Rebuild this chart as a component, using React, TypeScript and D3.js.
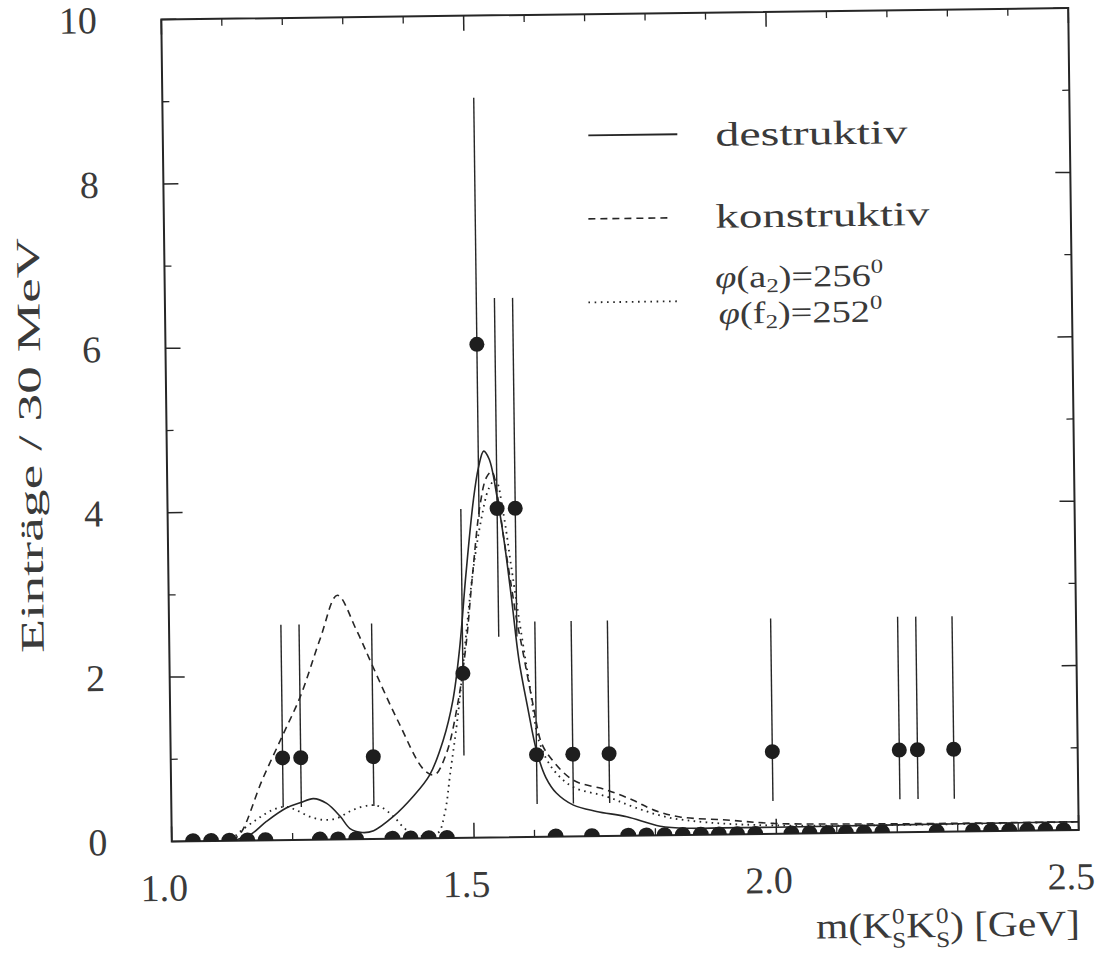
import React from 'react';
import * as d3 from 'd3';

// ---------------- data ----------------
const xTickValues = [1.0, 1.5, 2.0, 2.5];
const xTickLabels = ['1.0', '1.5', '2.0', '2.5'];
const xMinorTicks = [1.1, 1.2, 1.3, 1.4, 1.6, 1.7, 1.8, 1.9, 2.1, 2.2, 2.3, 2.4];
const yTickValues = [0, 2, 4, 6, 8, 10];
const yTickLabels = ['0', '2', '4', '6', '8', '10'];
const yMinorTicks = [1, 3, 5, 7, 9];

// bins (30 MeV) with zero entries
const zeroMass = [1.035, 1.065, 1.095, 1.125, 1.155, 1.245, 1.275, 1.305, 1.365, 1.395, 1.425, 1.455,
  1.635, 1.695, 1.755, 1.785, 1.815, 1.845, 1.875, 1.905, 1.935, 1.965, 2.025, 2.055, 2.085, 2.115,
  2.145, 2.175, 2.265, 2.325, 2.355, 2.385, 2.415, 2.445, 2.475];

// bins with entries
const pointMass = [1.185, 1.215, 1.335, 1.485, 1.515, 1.545, 1.575, 1.605, 1.665, 1.725, 1.995, 2.205, 2.235, 2.295];
const pointCount = [1, 1, 1, 2, 6, 4, 4, 1, 1, 1, 1, 1, 1, 1];
const pointLow = [0.4, 0.4, 0.4, 1.0, 3.9, 2.44, 2.44, 0.4, 0.4, 0.4, 0.4, 0.4, 0.4, 0.4];
const pointHigh = [2.62, 2.62, 2.62, 4.0, 9.0, 6.56, 6.56, 2.62, 2.62, 2.62, 2.62, 2.62, 2.62, 2.62];

// fit curves
const destruktivMass = [1.10, 1.13, 1.157, 1.19, 1.213, 1.235, 1.257, 1.279, 1.295, 1.315, 1.334, 1.367, 1.40, 1.428,
  1.451, 1.468, 1.48, 1.492, 1.506, 1.515, 1.524, 1.533, 1.545, 1.556, 1.567, 1.578, 1.592, 1.605, 1.62, 1.637,
  1.665, 1.703, 1.753, 1.808, 1.86, 1.91, 2.0, 2.2, 2.5];
const destruktivValue = [0, 0.07, 0.23, 0.39, 0.45, 0.5, 0.44, 0.28, 0.13, 0.08, 0.1, 0.27, 0.51, 0.77,
  1.19, 1.68, 2.3, 3.2, 4.11, 4.5, 4.7, 4.6, 4.15, 3.6, 2.9, 2.15, 1.55, 1.05, 0.72, 0.53,
  0.38, 0.3, 0.23, 0.11, 0.08, 0.08, 0.08, 0.09, 0.1];

const konstruktivMass = [1.10, 1.115, 1.15, 1.186, 1.216, 1.25, 1.279, 1.31, 1.336, 1.376, 1.419, 1.436, 1.456,
  1.475, 1.49, 1.503, 1.517, 1.528, 1.537, 1.547, 1.555, 1.567, 1.575, 1.583, 1.601, 1.613, 1.627, 1.665,
  1.72, 1.764, 1.797, 1.841, 1.918, 1.995, 2.1, 2.3, 2.5];
const konstruktivValue = [0, 0.1, 0.72, 1.28, 1.75, 2.45, 2.97, 2.54, 2.1, 1.44, 0.83, 0.77, 1.03,
  1.6, 2.3, 3.2, 4.05, 4.38, 4.45, 4.1, 3.66, 3.05, 2.64, 2.32, 1.58, 1.15, 0.97, 0.685,
  0.56, 0.43, 0.31, 0.22, 0.175, 0.127, 0.11, 0.1, 0.1];

const phaseMass = [1.10, 1.107, 1.14, 1.168, 1.19, 1.207, 1.229, 1.251, 1.273, 1.30, 1.328, 1.346, 1.367, 1.389,
  1.41, 1.44, 1.452, 1.462, 1.476, 1.49, 1.503, 1.518, 1.532, 1.543, 1.555, 1.567, 1.58, 1.595, 1.61, 1.633,
  1.665, 1.72, 1.764, 1.819, 1.885, 1.967, 2.1, 2.3, 2.5];
const phaseValue = [0, 0.07, 0.25, 0.37, 0.405, 0.36, 0.28, 0.24, 0.256, 0.355, 0.41, 0.39, 0.27, 0.1,
  0.03, 0.06, 0.3, 0.79, 1.5, 2.4, 3.2, 3.85, 4.25, 4.35, 3.95, 3.3, 2.6, 1.85, 1.15, 0.81,
  0.6, 0.48, 0.35, 0.22, 0.15, 0.11, 0.09, 0.09, 0.1];

const INK = '#262626';
const TXT = '#3a3a3a';
const FONT = '"Liberation Serif", "DejaVu Serif", serif';

export default function App() {
  const left = 166.5, right = 1073.5, top = 13.75, bottom = 835.75;
  const x = d3.scaleLinear().domain([1.0, 2.5]).range([left, right]);
  const y = d3.scaleLinear().domain([0, 10]).range([bottom, top]);

  const line = d3.line<[number, number]>()
    .x(d => x(d[0]))
    .y(d => y(d[1]))
    .curve(d3.curveCatmullRom.alpha(0.5));

  const solidPath = line(destruktivMass.map((m, i) => [m, destruktivValue[i]] as [number, number])) || '';
  const dashPath = line(konstruktivMass.map((m, i) => [m, konstruktivValue[i]] as [number, number])) || '';
  const dotPath = line(phaseMass.map((m, i) => [m, phaseValue[i]] as [number, number])) || '';

  const majorLen = 15, minorLen = 7;

  return (
    <svg width={1095} height={960} style={{ position: 'absolute', left: 0, top: 0, background: '#fff' }}>
      <rect x={0} y={0} width={1095} height={960} fill="#fff" />
      <defs>
        <clipPath id="plotClip">
          <rect x={left} y={top} width={right - left} height={bottom - top} />
        </clipPath>
      </defs>
      <g transform="rotate(-0.73 620 424.75)">
        {/* frame */}
        <rect x={left} y={top} width={right - left} height={bottom - top} fill="none" stroke={INK} strokeWidth={2} />

        {/* x ticks (bottom and top) */}
        {xTickValues.map(v => (
          <g key={'xt' + v}>
            <line x1={x(v)} x2={x(v)} y1={bottom} y2={bottom - majorLen} stroke={INK} strokeWidth={1.5} />
            <line x1={x(v)} x2={x(v)} y1={top} y2={top + majorLen} stroke={INK} strokeWidth={1.5} />
          </g>
        ))}
        {xMinorTicks.map(v => (
          <g key={'xm' + v}>
            <line x1={x(v)} x2={x(v)} y1={bottom} y2={bottom - minorLen} stroke={INK} strokeWidth={1.3} />
            <line x1={x(v)} x2={x(v)} y1={top} y2={top + minorLen} stroke={INK} strokeWidth={1.3} />
          </g>
        ))}
        {/* y ticks (left and right) */}
        {yTickValues.map(v => (
          <g key={'yt' + v}>
            <line x1={left} x2={left + majorLen} y1={y(v)} y2={y(v)} stroke={INK} strokeWidth={1.5} />
            <line x1={right} x2={right - majorLen} y1={y(v)} y2={y(v)} stroke={INK} strokeWidth={1.5} />
          </g>
        ))}
        {yMinorTicks.map(v => (
          <g key={'ym' + v}>
            <line x1={left} x2={left + minorLen} y1={y(v)} y2={y(v)} stroke={INK} strokeWidth={1.3} />
            <line x1={right} x2={right - minorLen} y1={y(v)} y2={y(v)} stroke={INK} strokeWidth={1.3} />
          </g>
        ))}

        {/* tick labels */}
        {xTickValues.map((v, i) => (
          <text key={'xl' + v} x={x(v) - 8} y={895} textAnchor="middle" fontFamily={FONT} fontSize={38} fill={TXT}>
            {xTickLabels[i]}
          </text>
        ))}
        {yTickValues.map((v, i) => (
          <text key={'yl' + v} x={102} y={y(v) + 13} textAnchor="end" fontFamily={FONT} fontSize={38} fill={TXT}>
            {yTickLabels[i]}
          </text>
        ))}

        {/* axis titles */}
        <text transform="translate(41,438) rotate(-90)" textAnchor="middle" fontFamily={FONT} fontSize={33}
          fill={TXT} textLength={415} lengthAdjust="spacingAndGlyphs">Einträge / 30 MeV</text>

        <g transform="translate(1073.5,941) scale(1.15,1)">
          <text x={0} y={0} textAnchor="end" fontFamily={FONT} fontSize={36} fill={TXT}>
            m(K<tspan fontSize={22} dy={-14}>0</tspan><tspan fontSize={22} dx={-11} dy={24}>S</tspan>
            <tspan dy={-10}>K</tspan><tspan fontSize={22} dy={-14}>0</tspan><tspan fontSize={22} dx={-11} dy={24}>S</tspan>
            <tspan dy={-10}>)  [GeV]</tspan>
          </text>
        </g>

        {/* curves */}
        <g clipPath="url(#plotClip)" fill="none" stroke={INK}>
          <path d={solidPath} strokeWidth={1.6} />
          <path d={dashPath} strokeWidth={1.6} strokeDasharray="7 5" />
          <path d={dotPath} strokeWidth={1.8} strokeDasharray="1.6 4.4" />
        </g>

        {/* error bars */}
        {pointMass.map((m, i) => (
          <line key={'eb' + m} x1={x(m)} x2={x(m)} y1={y(pointLow[i])} y2={y(pointHigh[i])} stroke={INK} strokeWidth={1.4} />
        ))}
        {/* points */}
        <g clipPath="url(#plotClip)">
          {zeroMass.map(m => (
            <circle key={'z' + m} cx={x(m)} cy={y(0)} r={8} fill="#1e1e1e" />
          ))}
        </g>
        {pointMass.map((m, i) => (
          <circle key={'p' + m} cx={x(m)} cy={y(pointCount[i])} r={7.5} fill="#1e1e1e" />
        ))}

        {/* legend */}
        <line x1={592} x2={681} y1={135} y2={135} stroke={INK} strokeWidth={1.8} />
        <text x={719} y={147} fontFamily={FONT} fontSize={34} fill={TXT} textLength={192} lengthAdjust="spacingAndGlyphs">destruktiv</text>

        <line x1={591} x2={673} y1={218.5} y2={218.5} stroke={INK} strokeWidth={1.6} strokeDasharray="7 5" />
        <text x={718} y={229} fontFamily={FONT} fontSize={34} fill={TXT} textLength={214} lengthAdjust="spacingAndGlyphs">konstruktiv</text>

        <line x1={590} x2={682} y1={302} y2={302} stroke={INK} strokeWidth={1.8} strokeDasharray="1.6 4.6" />
        <g transform="translate(717,289) scale(1.24,1)">
          <text x={0} y={0} fontFamily={FONT} fontSize={31} fill={TXT}>
            <tspan fontStyle="italic">φ</tspan>(a<tspan fontSize={20} dy={5}>2</tspan><tspan dy={-5}>)=256</tspan><tspan fontSize={20} dy={-13}>0</tspan>
          </text>
        </g>
        <g transform="translate(720,325) scale(1.24,1)">
          <text x={0} y={0} fontFamily={FONT} fontSize={31} fill={TXT}>
            <tspan fontStyle="italic">φ</tspan>(f<tspan fontSize={20} dy={5}>2</tspan><tspan dy={-5}>)=252</tspan><tspan fontSize={20} dy={-13}>0</tspan>
          </text>
        </g>
      </g>
    </svg>
  );
}
